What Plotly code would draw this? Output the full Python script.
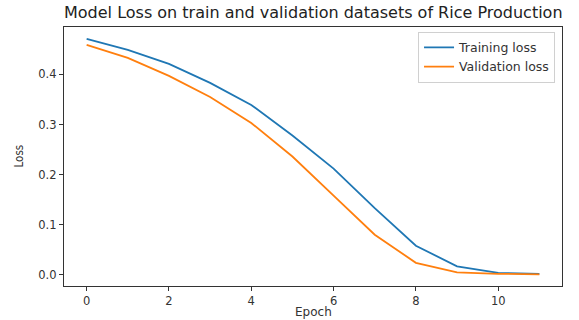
import plotly.graph_objects as go

# Loss history per epoch
epochs = list(range(12))
training_loss = [0.471, 0.449, 0.421, 0.383, 0.339, 0.278, 0.212, 0.133, 0.058, 0.017, 0.004, 0.002]
validation_loss = [0.459, 0.433, 0.397, 0.355, 0.303, 0.236, 0.158, 0.080, 0.024, 0.005, 0.002, 0.001]

y_ticks = [0.0, 0.1, 0.2, 0.3, 0.4]
x_ticks = [0, 2, 4, 6, 8, 10]

font_family = "DejaVu Sans"

fig = go.Figure()
fig.add_trace(go.Scatter(x=epochs, y=training_loss, mode="lines", name="Training loss",
                         line=dict(color="#1f77b4", width=1.8)))
fig.add_trace(go.Scatter(x=epochs, y=validation_loss, mode="lines", name="Validation loss",
                         line=dict(color="#ff7f0e", width=1.8)))

axis_common = dict(showline=True, mirror=True, linecolor="#333333", linewidth=1.2,
                   ticks="outside", ticklen=4, tickcolor="#333333", showgrid=False,
                   zeroline=False, tickfont=dict(family=font_family, size=11.5, color="#333333"))

fig.update_layout(
    width=579, height=320,
    margin=dict(l=64, r=17, t=27, b=32),
    paper_bgcolor="white", plot_bgcolor="white",
    font=dict(family=font_family, color="#333333"),
    xaxis=dict(range=[-0.55, 11.55], tickvals=x_ticks, **axis_common),
    yaxis=dict(range=[-0.0223, 0.4945], tickvals=y_ticks, tickformat=".1f", **axis_common),
    legend=dict(x=0.986, y=0.982, xanchor="right", yanchor="top",
                bgcolor="rgba(255,255,255,0.9)", bordercolor="#d0d0d0", borderwidth=1,
                font=dict(family=font_family, size=12.5, color="#333333"),
                itemwidth=30, tracegroupgap=0),
    showlegend=True,
    annotations=[
        dict(text="Model Loss on train and validation datasets of Rice Production",
             x=0.5, y=1, xref="paper", yref="paper", xanchor="center", yanchor="bottom",
             yshift=3, showarrow=False, font=dict(family=font_family, size=16, color="#222222")),
        dict(text="Epoch", x=0.5, y=0, xref="paper", yref="paper", xanchor="center",
             yanchor="top", yshift=-17, showarrow=False,
             font=dict(family=font_family, size=12, color="#333333")),
        dict(text="Loss", x=0, y=0.5, xref="paper", yref="paper", xanchor="center",
             yanchor="middle", xshift=-46, textangle=-90, showarrow=False,
             font=dict(family="Liberation Sans Narrow, DejaVu Sans Condensed, DejaVu Sans", size=11.5, color="#333333")),
    ],
)

fig.write_html("out.html")
